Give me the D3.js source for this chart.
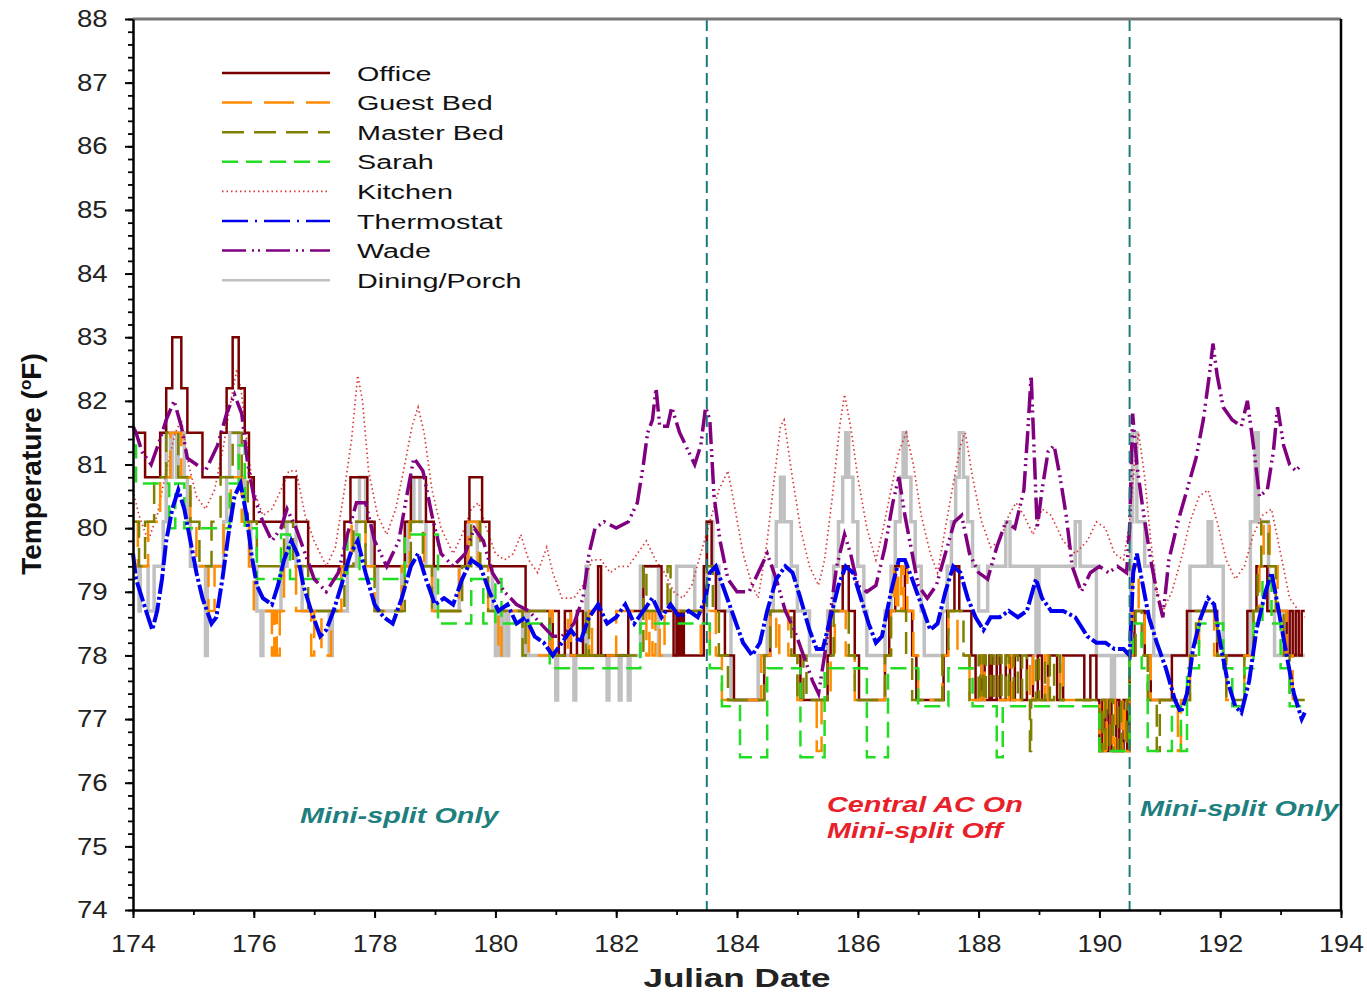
<!DOCTYPE html>
<html>
<head>
<meta charset="utf-8">
<script src="https://cdnjs.cloudflare.com/ajax/libs/d3/7.8.5/d3.min.js"></script>
<style>
  body { margin: 0; background: #fff; }
  svg text { font-family: "Liberation Sans", Arial, sans-serif; }
</style>
</head>
<body>
<div id="chart"></div>
<script>
// ---- data (Julian day, deg F) ----
const xTicks = [174, 176, 178, 180, 182, 184, 186, 188, 190, 192, 194];
const yTicks = [74, 75, 76, 77, 78, 79, 80, 81, 82, 83, 84, 85, 86, 87, 88];
const seriesNames = ["Office", "Guest Bed", "Master Bed", "Sarah", "Kitchen", "Thermostat", "Wade", "Dining/Porch"];
const phaseLines = [183.5, 190.5];

const office = [
  [174.00,81.5],[174.20,80.8],[174.45,81.5],[174.55,82.2],[174.65,83.0],[174.80,82.2],[174.90,81.5],[175.15,80.8],
  [175.45,81.5],[175.55,82.2],[175.65,83.0],[175.75,82.2],[175.85,81.5],[175.92,80.8],[176.00,80.1],[176.50,80.8],
  [176.70,80.1],[176.90,79.4],[177.50,80.1],[177.60,80.8],[177.88,80.1],[178.00,79.4],[178.50,80.1],[178.60,80.8],
  [178.85,80.1],[178.98,79.4],[179.50,80.1],[179.57,80.8],[179.78,80.1],[179.90,79.4],[180.50,78.7],[180.90,78.0],
  [180.95,78.7],[181.05,78.0],[181.15,78.7],[181.25,78.0],[181.35,78.7],[181.45,78.0],[181.70,79.4],[181.75,78.0],
  [182.20,78.7],[182.45,79.4],[182.75,78.7],[182.95,78.0],[183.00,78.7],[183.04,78.0],[183.08,78.7],[183.12,78.0],
  [183.45,79.4],[183.50,80.1],[183.58,79.4],[183.65,78.7],[183.80,78.0],[183.95,77.3],[184.45,78.0],[184.55,78.7],
  [184.95,78.0],[185.05,77.3],[185.50,78.0],[185.55,78.7],[185.75,79.4],[185.85,78.7],[185.95,78.0],[186.02,77.3],
  [186.45,78.0],[186.52,78.7],[186.62,79.4],[186.78,78.7],[186.90,78.0],[186.97,77.3],[187.42,78.0],[187.48,78.7],
  [187.60,79.4],[187.68,78.7],[187.88,78.0],[187.95,77.3],[188.05,78.0],[188.10,77.3],[188.18,78.0],[188.22,77.3],
  [188.30,78.0],[188.36,77.3],[188.45,78.0],[188.52,77.3],[188.60,78.0],[188.70,77.3],[188.80,78.0],[188.90,77.3],
  [188.98,78.0],[189.05,77.3],[189.15,78.0],[189.30,77.3],[189.40,78.0],[189.75,77.3],[189.85,78.0],[189.95,77.3],
  [190.00,76.5],[190.05,77.3],[190.10,76.5],[190.15,77.3],[190.20,76.5],[190.28,77.3],[190.33,76.5],[190.40,77.3],
  [190.46,76.5],[190.50,78.0],[190.58,78.7],[190.75,78.0],[190.85,77.3],[191.20,78.0],[191.45,78.7],[191.95,78.0],
  [192.45,78.7],[192.60,79.4],[192.78,78.7],[193.10,78.0],[193.15,78.7],[193.20,78.0],[193.25,78.7],[193.30,78.0],
  [193.35,78.7],[193.40,78.7]
];

const guestBed = [
  [174.00,80.1],[174.08,79.4],[174.25,80.1],[174.45,80.8],[174.62,81.5],[174.80,80.8],[174.95,80.1],[175.05,79.4],
  [175.25,78.7],[175.35,79.4],[175.50,80.1],[175.62,80.8],[175.80,80.1],[175.92,79.4],[176.00,78.7],[176.30,78.0],
  [176.34,78.7],[176.38,78.0],[176.43,78.7],[176.50,79.4],[176.70,78.7],[176.95,78.0],[177.00,78.7],[177.12,78.0],
  [177.28,78.7],[177.45,79.4],[177.62,80.1],[177.85,79.4],[178.00,78.7],[178.45,79.4],[178.58,80.1],[178.82,79.4],
  [178.95,78.7],[179.40,79.4],[179.55,80.1],[179.72,79.4],[179.88,78.7],[180.05,78.0],[180.10,78.7],[180.55,78.0],
  [180.90,78.7],[180.95,78.0],[181.20,78.7],[181.25,78.0],[181.55,78.7],[181.60,78.0],[182.00,78.7],[182.50,78.0],
  [182.55,78.7],[182.60,78.0],[182.65,78.7],[182.72,78.0],[182.80,78.7],[183.40,78.0],[183.55,78.7],[183.65,78.0],
  [183.75,77.3],[184.40,78.0],[184.55,78.7],[184.65,78.0],[184.70,78.7],[184.85,78.0],[185.00,77.3],[185.32,76.5],
  [185.40,77.3],[185.55,78.0],[185.62,78.7],[185.80,78.0],[185.95,77.3],[186.45,78.0],[186.55,78.7],[186.60,79.4],
  [186.63,78.7],[186.67,79.4],[186.72,78.7],[186.76,79.4],[186.82,78.7],[186.92,78.0],[187.00,77.3],[187.40,78.0],
  [187.50,78.7],[187.65,78.0],[187.85,77.3],[188.05,78.0],[188.10,77.3],[188.50,78.0],[188.55,77.3],[188.85,78.0],
  [188.90,77.3],[189.10,78.0],[189.15,77.3],[189.35,78.0],[189.40,77.3],[190.00,76.5],[190.08,77.3],[190.12,76.5],
  [190.22,77.3],[190.26,76.5],[190.38,77.3],[190.42,76.5],[190.50,78.0],[190.55,79.4],[190.65,78.7],[190.75,78.0],
  [190.85,77.3],[191.30,76.5],[191.35,77.3],[191.50,78.0],[191.65,78.7],[191.90,78.0],[192.10,77.3],[192.40,78.0],
  [192.55,78.7],[192.65,79.4],[192.72,80.1],[192.82,79.4],[192.95,78.7],[193.10,78.0],[193.20,77.3],[193.40,77.3]
];

const masterBed = [
  [174.00,80.1],[174.10,79.4],[174.20,80.1],[174.35,80.8],[174.55,81.5],[174.75,80.8],[174.95,80.1],[175.10,79.4],
  [175.30,80.1],[175.45,80.8],[175.65,81.5],[175.80,80.8],[175.90,80.1],[176.05,79.4],[176.50,80.1],[176.65,79.4],
  [176.90,78.7],[177.50,79.4],[177.65,80.1],[177.85,79.4],[178.00,78.7],[178.50,79.4],[178.60,80.1],[178.80,79.4],
  [178.95,78.7],[179.45,79.4],[179.60,80.1],[179.75,79.4],[179.88,78.7],[180.45,78.0],[180.50,78.7],[180.90,78.0],
  [181.50,78.7],[181.55,78.0],[182.45,79.4],[182.50,78.7],[182.85,79.4],[182.90,78.7],[183.50,79.4],[183.60,78.7],
  [183.70,78.0],[183.85,77.3],[184.45,78.0],[184.55,78.7],[184.90,78.0],[185.00,77.3],[185.10,78.0],[185.15,77.3],
  [185.50,78.0],[185.60,78.7],[185.85,78.0],[185.95,77.3],[186.45,78.0],[186.55,78.7],[186.80,78.0],[186.90,77.3],
  [187.40,78.0],[187.50,78.7],[187.75,78.0],[187.85,77.3],[188.00,78.0],[188.03,77.3],[188.08,78.0],[188.12,77.3],
  [188.20,78.0],[188.25,77.3],[188.32,78.0],[188.38,77.3],[188.45,78.0],[188.50,77.3],[188.58,78.0],[188.65,77.3],
  [188.72,78.0],[188.80,77.3],[188.85,76.5],[188.87,77.3],[188.95,78.0],[189.00,77.3],[189.10,78.0],[189.18,77.3],
  [189.25,78.0],[189.35,77.3],[190.00,76.5],[190.05,77.3],[190.10,76.5],[190.17,77.3],[190.23,76.5],[190.31,77.3],
  [190.36,76.5],[190.45,77.3],[190.50,78.0],[190.60,78.7],[190.70,78.0],[190.80,77.3],[190.95,76.5],[191.00,77.3],
  [191.50,78.0],[191.60,78.7],[191.95,78.0],[192.10,77.3],[192.40,78.0],[192.55,78.7],[192.62,79.4],[192.68,80.1],
  [192.80,79.4],[192.92,78.7],[193.05,78.0],[193.15,77.3],[193.40,77.3]
];

const sarah = [
  [174.00,81.3],[174.05,80.7],[174.60,80.0],[174.70,80.7],[174.85,80.0],[175.60,80.7],[175.75,81.3],[175.85,80.0],
  [176.05,79.2],[176.45,79.9],[176.60,79.2],[177.55,79.9],[177.75,79.2],[178.50,79.9],[179.05,78.5],[179.60,79.2],
  [179.80,78.5],[180.00,79.2],[180.10,78.5],[180.90,77.8],[182.40,78.5],[183.55,77.8],[183.75,77.2],[184.05,76.4],
  [184.50,77.8],[185.05,76.4],[185.45,77.8],[186.15,76.4],[186.50,77.8],[187.00,77.2],[187.50,77.8],[187.90,77.2],
  [188.30,76.4],[188.40,77.2],[190.00,76.5],[190.50,78.0],[190.55,78.5],[190.70,77.8],[190.80,76.5],[191.20,77.2],
  [191.35,76.5],[191.45,77.8],[191.65,78.5],[192.05,77.8],[192.20,77.2],[192.40,77.8],[192.55,78.5],[192.70,79.2],
  [192.85,78.5],[193.00,77.8],[193.15,77.2],[193.40,77.2]
];

const kitchen = [
  [174.00,80.6],[174.10,80.2],[174.25,79.8],[174.40,80.2],[174.55,80.9],[174.70,81.5],[174.80,81.7],[174.92,81.0],
  [175.05,80.5],[175.20,80.3],[175.35,80.6],[175.50,81.3],[175.62,82.0],[175.72,82.5],[175.80,82.1],[175.90,81.2],
  [176.00,80.6],[176.15,80.2],[176.30,80.3],[176.45,80.6],[176.58,80.9],[176.70,80.9],[176.85,80.2],[177.00,79.8],
  [177.20,79.4],[177.35,79.7],[177.50,80.6],[177.62,81.4],[177.72,82.4],[177.80,82.0],[177.90,80.9],[178.05,80.2],
  [178.20,79.9],[178.35,80.3],[178.50,81.0],[178.62,81.6],[178.72,81.9],[178.82,81.5],[178.95,80.6],[179.10,80.0],
  [179.30,79.6],[179.45,79.9],[179.60,80.3],[179.72,80.4],[179.85,80.0],[180.00,79.6],[180.15,79.5],[180.30,79.6],
  [180.42,79.9],[180.55,79.5],[180.70,79.3],[180.85,79.7],[180.95,79.3],[181.10,78.9],[181.30,78.9],[181.45,79.1],
  [181.60,79.5],[181.75,79.5],[181.90,79.3],[182.05,79.4],[182.20,79.4],[182.35,79.6],[182.50,79.8],[182.65,79.5],
  [182.80,79.3],[182.95,79.0],[183.10,78.9],[183.25,79.1],[183.40,79.6],[183.55,80.1],[183.70,80.6],[183.85,80.9],
  [183.95,80.4],[184.10,79.6],[184.25,79.1],[184.35,78.9],[184.50,79.8],[184.62,80.8],[184.72,81.6],[184.78,81.7],
  [184.90,80.9],[185.05,80.0],[185.20,79.4],[185.35,79.1],[185.45,79.5],[185.58,80.5],[185.70,81.6],[185.78,82.1],
  [185.88,81.6],[186.00,80.8],[186.15,80.0],[186.30,79.5],[186.40,79.9],[186.55,80.6],[186.68,81.2],[186.80,81.5],
  [186.92,81.0],[187.05,80.2],[187.20,79.6],[187.32,79.3],[187.45,80.0],[187.58,80.7],[187.70,81.3],[187.78,81.5],
  [187.90,80.8],[188.05,80.1],[188.20,79.7],[188.35,79.8],[188.50,80.2],[188.62,80.4],[188.75,80.2],[188.90,79.9],
  [189.05,80.3],[189.20,80.2],[189.40,79.8],[189.60,79.6],[189.80,79.8],[189.95,80.1],[190.10,80.0],[190.25,79.6],
  [190.40,79.5],[190.50,80.1],[190.58,81.0],[190.65,81.5],[190.75,80.8],[190.85,79.8],[190.95,79.0],[191.05,78.7],
  [191.20,79.0],[191.35,79.5],[191.50,80.1],[191.65,80.5],[191.80,80.6],[191.95,80.1],[192.10,79.5],[192.25,79.2],
  [192.40,79.4],[192.55,79.9],[192.70,80.2],[192.85,80.3],[193.00,79.6],[193.15,78.9],[193.30,78.7],[193.40,78.6]
];

const thermostat = [
  [174.00,79.6],[174.05,79.2],[174.15,78.9],[174.25,78.6],[174.32,78.4],[174.40,78.7],[174.48,79.2],[174.55,79.8],
  [174.65,80.3],[174.75,80.6],[174.85,80.3],[174.95,79.8],[175.05,79.3],[175.15,78.9],[175.30,78.5],[175.38,78.6],
  [175.48,79.2],[175.58,79.9],[175.68,80.5],[175.78,80.7],[175.88,80.2],[175.96,79.6],[176.05,79.1],[176.15,78.9],
  [176.30,78.8],[176.40,79.1],[176.50,79.5],[176.62,79.8],[176.72,79.6],[176.82,79.1],[176.95,78.7],[177.10,78.3],
  [177.20,78.4],[177.32,78.7],[177.45,79.1],[177.60,79.6],[177.72,79.8],[177.85,79.3],[178.00,78.8],[178.15,78.6],
  [178.30,78.5],[178.45,78.9],[178.60,79.4],[178.72,79.6],[178.85,79.2],[179.00,78.8],[179.15,78.9],[179.30,78.8],
  [179.45,79.2],[179.60,79.5],[179.75,79.4],[179.90,79.0],[180.05,78.7],[180.20,78.8],[180.35,78.5],[180.50,78.6],
  [180.65,78.3],[180.80,78.2],[180.95,78.0],[181.10,78.2],[181.25,78.4],[181.40,78.2],[181.55,78.6],[181.70,78.8],
  [181.85,78.5],[182.00,78.6],[182.15,78.8],[182.30,78.5],[182.45,78.7],[182.60,78.9],[182.75,78.6],[182.90,78.8],
  [183.05,78.6],[183.20,78.7],[183.35,78.6],[183.48,78.9],[183.55,79.3],[183.65,79.4],[183.80,79.0],[183.95,78.6],
  [184.10,78.2],[184.25,78.0],[184.38,78.2],[184.50,78.7],[184.65,79.2],[184.80,79.4],[184.92,79.3],[185.05,78.9],
  [185.20,78.4],[185.32,78.1],[185.42,78.1],[185.55,78.6],[185.68,79.1],[185.80,79.4],[185.92,79.3],[186.05,78.9],
  [186.18,78.5],[186.30,78.2],[186.40,78.3],[186.55,79.0],[186.68,79.5],[186.78,79.5],[186.90,79.2],[187.05,78.8],
  [187.20,78.4],[187.32,78.5],[187.45,79.0],[187.58,79.4],[187.70,79.3],[187.82,78.9],[187.95,78.6],[188.08,78.4],
  [188.20,78.6],[188.35,78.6],[188.50,78.7],[188.65,78.6],[188.80,78.7],[188.95,79.2],[189.05,78.9],[189.20,78.7],
  [189.40,78.7],[189.60,78.6],[189.80,78.3],[189.95,78.2],[190.10,78.2],[190.25,78.1],[190.40,78.1],[190.50,78.0],
  [190.56,79.3],[190.62,79.6],[190.72,79.1],[190.82,78.6],[190.95,78.2],[191.10,77.8],[191.25,77.3],[191.35,77.1],
  [191.45,77.4],[191.55,78.1],[191.68,78.6],[191.80,78.9],[191.90,78.8],[192.00,78.2],[192.12,77.6],[192.25,77.2],
  [192.35,77.1],[192.48,77.6],[192.60,78.4],[192.75,79.0],[192.85,79.3],[192.95,78.8],[193.10,78.0],[193.22,77.4],
  [193.35,77.0],[193.40,77.1]
];

const wade = [
  [174.00,81.6],[174.05,81.5],[174.15,81.2],[174.30,81.0],[174.45,81.4],[174.55,81.7],[174.68,82.0],[174.80,81.6],
  [174.90,81.1],[175.05,81.0],[175.20,80.9],[175.40,81.3],[175.55,81.8],[175.68,82.1],[175.80,81.8],[175.90,81.0],
  [176.00,80.5],[176.15,80.1],[176.30,79.8],[176.45,80.0],[176.55,80.3],[176.70,80.0],[176.85,79.6],[177.00,79.2],
  [177.20,79.0],[177.40,79.3],[177.55,79.9],[177.70,80.4],[177.85,80.4],[178.00,79.8],[178.20,79.4],[178.40,79.8],
  [178.55,80.6],[178.65,81.1],[178.80,80.9],[178.95,80.2],[179.10,79.6],[179.30,79.4],[179.50,79.6],[179.65,80.0],
  [179.80,79.8],[179.95,79.3],[180.15,79.0],[180.35,78.8],[180.55,78.7],[180.75,78.5],[180.95,78.3],[181.10,78.3],
  [181.30,78.5],[181.45,78.9],[181.55,79.6],[181.65,80.0],[181.80,80.1],[182.00,80.0],[182.20,80.1],[182.35,80.4],
  [182.45,81.0],[182.52,81.5],[182.60,81.7],[182.66,82.2],[182.72,81.6],[182.85,81.6],[182.92,81.9],[183.05,81.5],
  [183.20,81.2],[183.30,81.0],[183.40,81.3],[183.48,81.9],[183.55,81.7],[183.62,80.5],[183.72,79.8],[183.85,79.2],
  [184.00,79.0],[184.20,79.0],[184.35,79.3],[184.50,79.6],[184.65,79.2],[184.80,78.7],[184.95,78.4],[185.10,78.0],
  [185.25,77.6],[185.35,77.4],[185.45,78.0],[185.55,78.7],[185.65,79.4],[185.78,79.9],[185.88,79.6],[186.00,79.1],
  [186.15,79.0],[186.30,79.1],[186.45,79.7],[186.58,80.4],[186.68,80.8],[186.78,80.2],[186.90,79.6],[187.00,79.1],
  [187.15,78.9],[187.30,79.1],[187.45,79.6],[187.60,80.1],[187.72,80.2],[187.85,79.6],[188.00,79.3],[188.15,79.2],
  [188.30,79.7],[188.45,80.1],[188.60,80.0],[188.75,80.6],[188.82,81.6],[188.87,82.4],[188.92,81.2],[188.97,80.0],
  [189.05,80.6],[189.15,81.2],[189.25,81.3],[189.35,80.8],[189.45,80.2],[189.55,79.4],[189.70,79.0],[189.85,79.3],
  [190.00,79.4],[190.15,79.3],[190.30,79.4],[190.45,79.3],[190.50,80.0],[190.55,81.8],[190.62,81.0],[190.72,80.3],
  [190.85,79.5],[190.95,79.0],[191.05,78.6],[191.15,79.5],[191.30,80.1],[191.45,80.6],[191.60,81.1],[191.72,81.7],
  [191.82,82.4],[191.88,82.9],[191.95,82.4],[192.05,81.9],[192.20,81.7],[192.35,81.6],[192.45,82.0],[192.55,81.3],
  [192.65,80.5],[192.78,80.6],[192.88,81.2],[192.95,81.9],[193.05,81.3],[193.15,81.0],[193.25,80.9],[193.35,81.0]
];

const dining = [
  [174.00,79.4],[174.10,78.7],[174.12,79.4],[174.25,78.7],[174.35,79.4],[174.50,80.1],[174.55,81.5],[174.62,80.8],
  [174.65,81.5],[174.72,80.8],[174.75,81.5],[174.85,80.8],[174.90,80.1],[174.95,79.4],[175.20,78.0],[175.23,79.4],
  [175.50,80.1],[175.55,80.8],[175.60,81.5],[175.75,80.8],[175.85,80.1],[175.95,79.4],[176.05,78.7],[176.12,78.0],
  [176.15,78.7],[176.45,79.4],[176.55,80.1],[176.70,79.4],[176.80,78.7],[177.25,78.0],[177.30,78.7],[177.55,79.4],
  [177.70,80.1],[177.75,80.8],[177.85,80.1],[177.95,79.4],[178.05,78.7],[178.45,79.4],[178.55,80.1],[178.65,80.8],
  [178.75,80.1],[178.85,79.4],[179.00,78.7],[179.40,79.4],[179.55,80.1],[179.70,79.4],[179.95,78.7],[180.00,78.0],
  [180.03,78.7],[180.08,78.0],[180.12,78.7],[180.18,78.0],[180.22,78.7],[180.45,78.0],[180.50,78.7],[180.55,78.0],
  [181.00,77.3],[181.03,78.0],[181.30,77.3],[181.33,78.0],[181.50,79.4],[181.53,78.0],[181.85,77.3],[181.88,78.0],
  [182.05,77.3],[182.08,78.0],[182.20,77.3],[182.23,78.0],[182.40,79.4],[182.70,78.0],[183.00,79.4],[183.30,78.7],
  [183.50,80.1],[183.60,79.4],[183.70,78.7],[183.90,77.3],[184.35,78.0],[184.50,78.7],[184.60,79.4],[184.65,80.1],
  [184.72,80.8],[184.78,80.1],[184.90,79.4],[185.00,78.7],[185.20,78.0],[185.50,78.7],[185.60,79.4],[185.68,80.1],
  [185.75,80.8],[185.80,81.5],[185.85,80.8],[185.92,80.1],[186.00,79.4],[186.10,78.7],[186.15,78.0],[186.45,78.7],
  [186.55,79.4],[186.62,80.1],[186.70,80.8],[186.75,81.5],[186.80,80.8],[186.88,80.1],[186.95,79.4],[187.05,78.7],
  [187.10,78.0],[187.40,78.7],[187.48,79.4],[187.55,80.1],[187.62,80.8],[187.68,81.5],[187.75,80.8],[187.82,80.1],
  [187.90,79.4],[188.00,78.7],[188.15,79.4],[188.45,80.1],[188.52,79.4],[188.95,78.0],[189.00,79.4],[189.60,80.1],
  [189.68,79.4],[189.95,78.0],[190.20,77.3],[190.25,78.0],[190.52,80.1],[190.55,81.5],[190.62,80.1],[190.75,79.4],
  [190.90,78.0],[191.50,79.4],[191.80,80.1],[191.86,79.4],[192.05,78.0],[192.50,80.1],[192.58,81.5],[192.63,80.1],
  [192.80,78.7],[192.90,78.0],[193.40,78.0]
];

const seriesData = [office, guestBed, masterBed, sarah, kitchen, thermostat, wade, dining];
const seriesColors = ["#7a0000", "#ff8c00", "#808000", "#22dd22", "#d83a3a", "#0000ee", "#800080", "#c0c0c0"];
const legendDash = ["none", "30,12", "22,10", "16,8", "1.5,3", "26,7,2,7", "24,6,2,4,2,6", "none"];
const plotDash = ["none", "30,12", "22,10", "16,8", "1.5,3", "20,3,3,3", "22,5,2,4,2,5", "none"];
const seriesWidth = [2.5, 2.5, 2.5, 2.5, 1.7, 4, 3.5, 3.5];
const stepped = [true, true, true, true, false, false, false, true];
// painting order: porch and kitchen underneath, thermostat on top
const drawOrder = [7, 4, 0, 1, 2, 3, 6, 5];

// ---- layout ----
const WIDTH = 1367, HEIGHT = 997;
const LEFT = 133, RIGHT = 1341, TOP = 19, BOTTOM = 910;

const svg = d3.select("#chart").append("svg")
    .attr("width", WIDTH)
    .attr("height", HEIGHT);

const x = d3.scaleLinear().domain([174, 194]).range([LEFT, RIGHT]);
const y = d3.scaleLinear().domain([74, 88]).range([BOTTOM, TOP]);

// series
drawOrder.forEach(i => {
    const line = d3.line()
        .x(d => x(d[0]))
        .y(d => y(d[1]))
        .curve(stepped[i] ? d3.curveStepAfter : d3.curveLinear);
    svg.append("path")
        .datum(seriesData[i])
        .attr("d", line)
        .attr("fill", "none")
        .attr("stroke", seriesColors[i])
        .attr("stroke-width", seriesWidth[i])
        .attr("stroke-dasharray", plotDash[i]);
});

// phase dividers
svg.selectAll(".phase")
    .data(phaseLines)
    .enter().append("line")
    .attr("x1", d => x(d)).attr("x2", d => x(d))
    .attr("y1", TOP).attr("y2", BOTTOM)
    .attr("stroke", "#1f7a7a")
    .attr("stroke-width", 2)
    .attr("stroke-dasharray", "12,6");

// frame: gray top, black right
svg.append("line").attr("x1", LEFT).attr("x2", RIGHT).attr("y1", TOP).attr("y2", TOP)
    .attr("stroke", "#777").attr("stroke-width", 3);
svg.append("line").attr("x1", RIGHT).attr("x2", RIGHT).attr("y1", TOP).attr("y2", BOTTOM)
    .attr("stroke", "#000").attr("stroke-width", 2.5);

// axes
const yMinor = d3.range(74, 88.01, 0.2);
const xMinor = d3.range(174, 194.01, 1);

svg.append("g")
    .attr("transform", `translate(${LEFT},0)`)
    .call(d3.axisLeft(y).tickValues(yMinor).tickSize(5).tickFormat(""))
    .call(g => g.select(".domain").remove())
    .call(g => g.selectAll("line").attr("stroke-width", 1.8));

const yAxis = svg.append("g")
    .attr("transform", `translate(${LEFT},0)`)
    .call(d3.axisLeft(y).tickValues(yTicks).tickSize(8).tickSizeOuter(0).tickPadding(14).tickFormat(d3.format("d")));
yAxis.select(".domain").attr("stroke-width", 2.5);
yAxis.selectAll("line").attr("stroke-width", 2);
yAxis.selectAll("text")
    .attr("font-size", 24)
    .attr("fill", "#222")
    .attr("transform", "scale(1.15,1)");

svg.append("g")
    .attr("transform", `translate(0,${BOTTOM})`)
    .call(d3.axisBottom(x).tickValues(xMinor).tickSize(5).tickFormat(""))
    .call(g => g.select(".domain").remove())
    .call(g => g.selectAll("line").attr("stroke-width", 1.8));

const xAxis = svg.append("g")
    .attr("transform", `translate(0,${BOTTOM})`)
    .call(d3.axisBottom(x).tickValues(xTicks).tickSize(8).tickSizeOuter(0).tickPadding(17).tickFormat(d3.format("d")));
xAxis.select(".domain").attr("stroke-width", 2.5);
xAxis.selectAll("line").attr("stroke-width", 2);
xAxis.selectAll("text")
    .attr("font-size", 24)
    .attr("fill", "#222")
    .attr("transform", "scale(1.12,1)");

// axis titles
svg.append("text")
    .attr("transform", `translate(${x(184)},987) scale(1.35,1)`)
    .attr("text-anchor", "middle")
    .attr("font-size", 26)
    .attr("font-weight", "bold")
    .attr("fill", "#222")
    .text("Julian Date");

const yTitle = svg.append("text")
    .attr("transform", "translate(41,464) rotate(-90)")
    .attr("text-anchor", "middle")
    .attr("font-size", 28)
    .attr("font-weight", "bold")
    .attr("fill", "#111");
yTitle.append("tspan").text("Temperature (");
yTitle.append("tspan").attr("font-size", 17).attr("dy", -10).text("o");
yTitle.append("tspan").attr("dy", 10).text("F)");

// legend
const legend = svg.append("g");
seriesNames.forEach((name, i) => {
    const ly = 73 + i * 29.6;
    legend.append("line")
        .attr("x1", 222).attr("x2", 330)
        .attr("y1", ly).attr("y2", ly)
        .attr("stroke", seriesColors[i])
        .attr("stroke-width", i === 4 ? 1.6 : 2.5)
        .attr("stroke-dasharray", legendDash[i]);
    legend.append("text")
        .attr("transform", `translate(357,${ly + 7.5}) scale(1.37,1)`)
        .attr("font-size", 21)
        .attr("fill", "#111")
        .text(name);
});

// phase annotations
const notes = [
    { text: "Mini-split Only", x: 300, y: 823, color: "#1f7f7f" },
    { text: "Central AC On", x: 827, y: 812, color: "#e8202a" },
    { text: "Mini-split Off", x: 827, y: 838, color: "#e8202a" },
    { text: "Mini-split Only", x: 1140, y: 816, color: "#1f7f7f" }
];
notes.forEach(n => {
    svg.append("text")
        .attr("transform", `translate(${n.x},${n.y}) scale(1.31,1)`)
        .attr("font-size", 22)
        .attr("font-weight", "bold")
        .attr("font-style", "italic")
        .attr("fill", n.color)
        .text(n.text);
});
</script>
</body>
</html>
